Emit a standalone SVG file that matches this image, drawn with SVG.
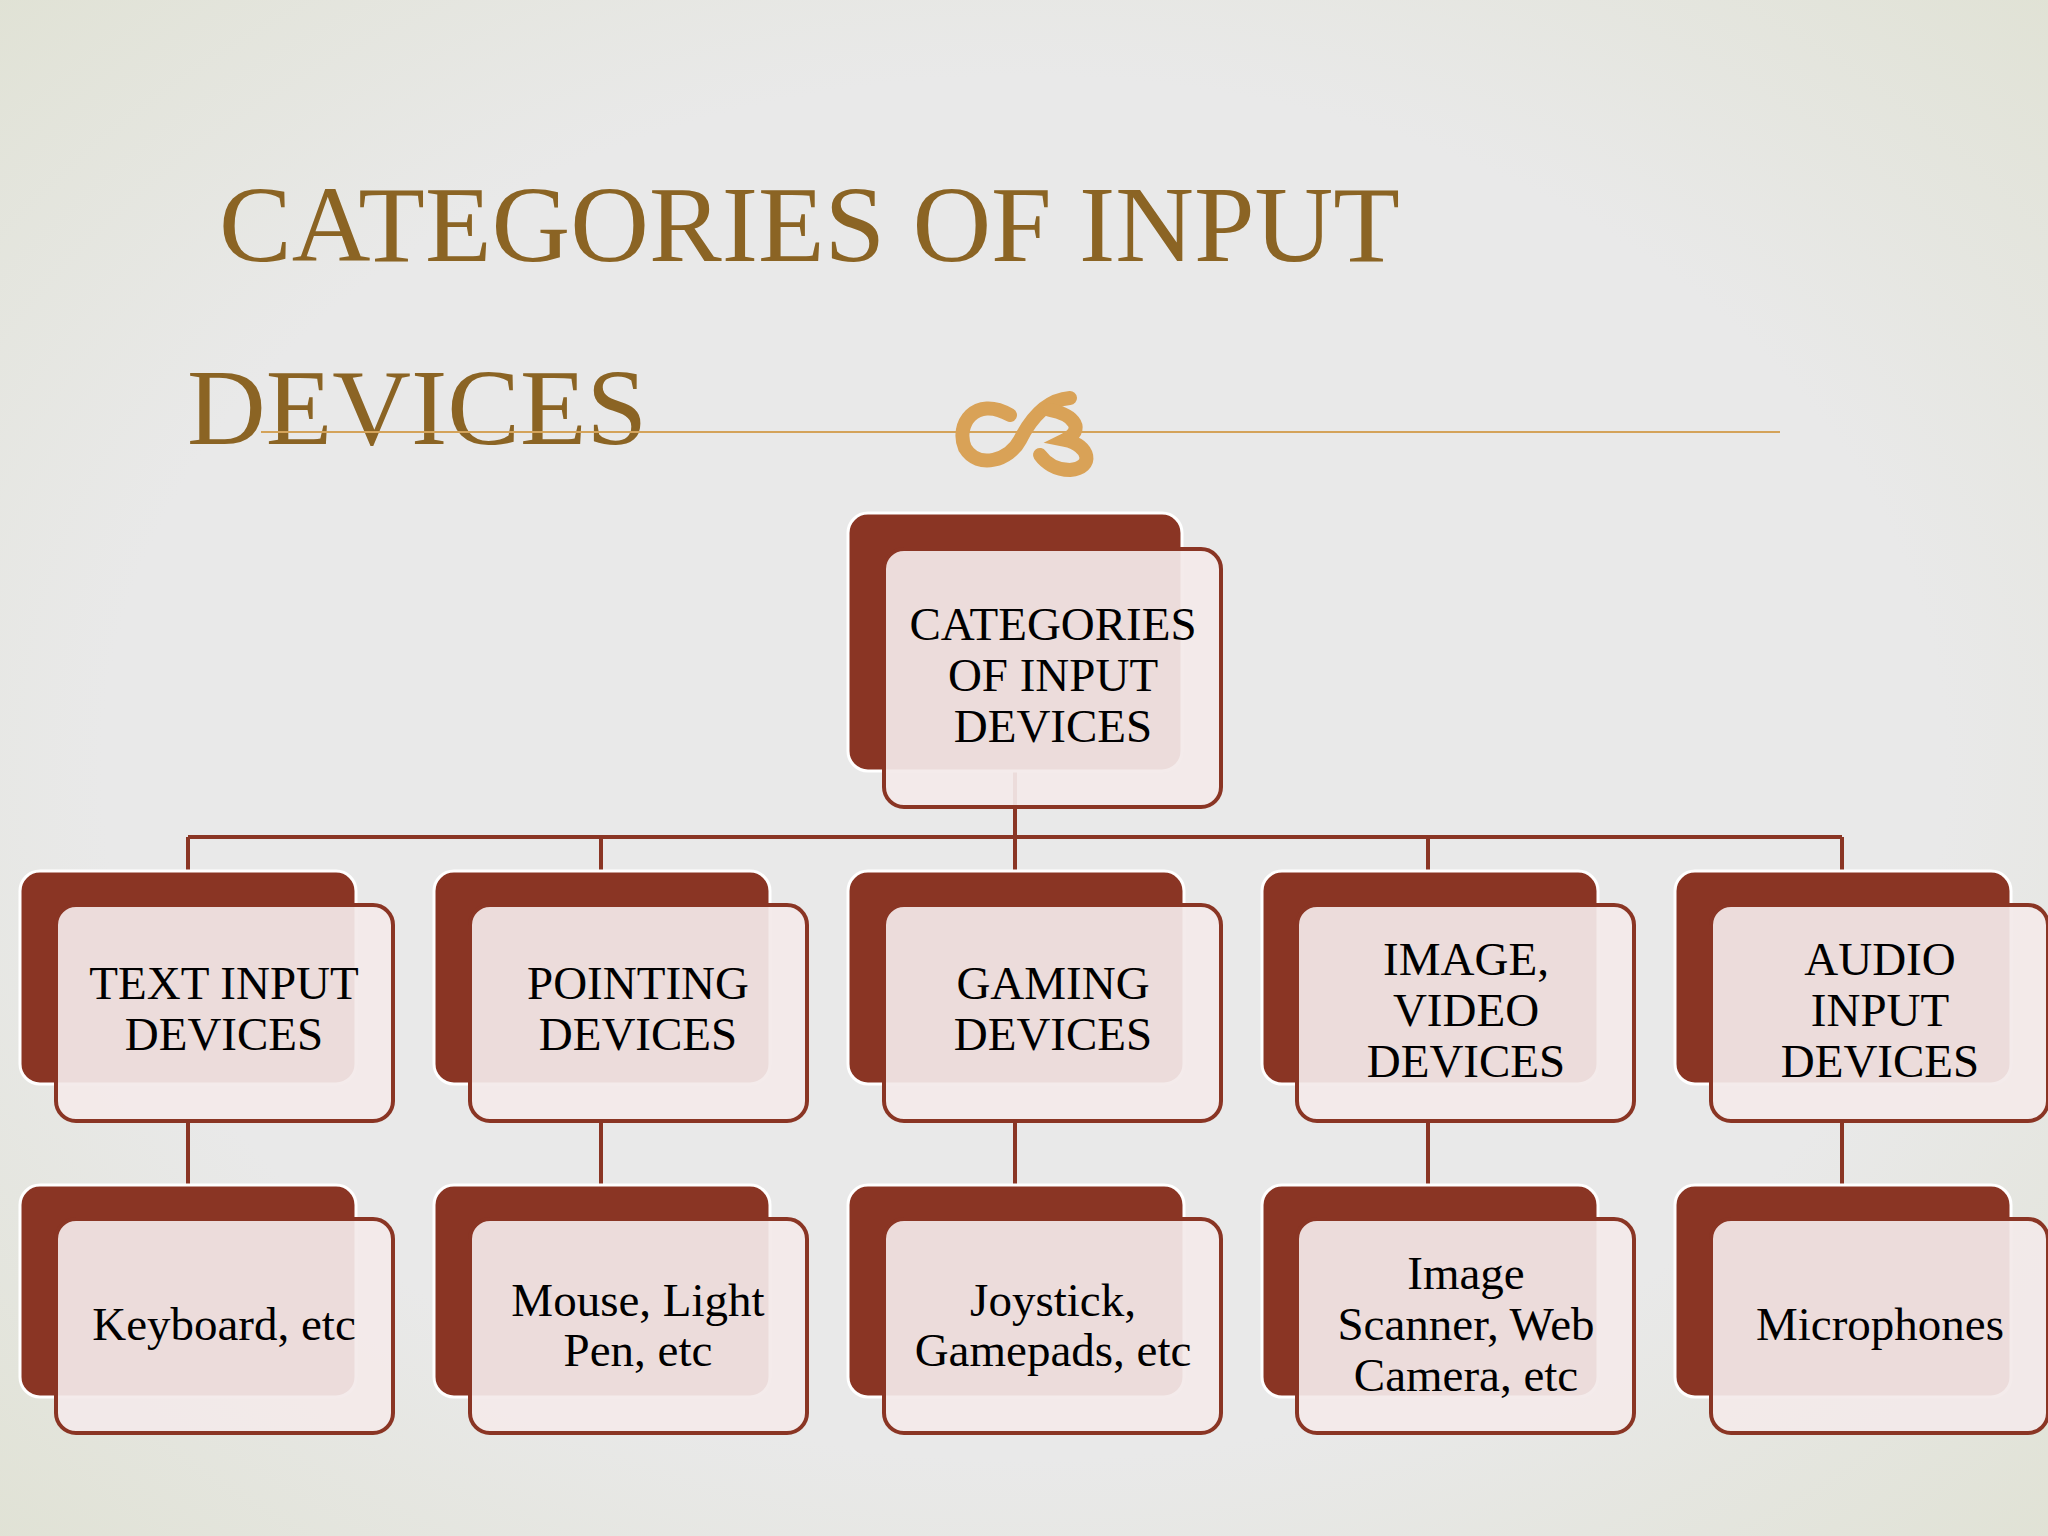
<svg xmlns="http://www.w3.org/2000/svg" width="2048" height="1536" viewBox="0 0 2048 1536">
<defs>
<radialGradient id="bg" cx="50%" cy="50%" r="75%">
<stop offset="0.6" stop-color="#E9E9E9"/><stop offset="1" stop-color="#DFE1D2"/>
</radialGradient>
<style>
.back{fill:#8A3524;stroke:#FFFFFF;stroke-width:3}
.front{fill:#F3EAEA;fill-opacity:0.93;stroke:#8A3524;stroke-width:4}
.t{font-family:"Liberation Serif",serif;font-size:47px;fill:#000;text-anchor:middle}
.title{font-family:"Liberation Serif",serif;font-size:109px;fill:#8B6424}
.c{stroke:#8A3524;stroke-width:4;fill:none}
</style>
</defs>
<rect width="2048" height="1536" fill="url(#bg)"/>
<text class="title" x="219" y="261">CATEGORIES OF INPUT</text>
<text class="title" x="187" y="444">DEVICES</text>
<line x1="261" y1="432" x2="1780" y2="432" stroke="#D4A35A" stroke-width="2"/>
<g id="ornament" fill="none" stroke="#D9A257" stroke-width="14" stroke-linecap="round">
<path d="M1010,415 C975,395 955,425 965,448 C978,470 1010,460 1020,440 C1030,420 1045,400 1070,398"/>
<path d="M1050,410 C1075,415 1085,430 1065,440 C1090,445 1095,468 1070,470 C1055,470 1045,462 1040,455"/>
</g>
<g id="connectors" class="c">
<path d="M1015,771 V837 M188,837 H1842 M188,837 V871 M601,837 V871 M1015,837 V871 M1428,837 V871 M1842,837 V871"/>
<path d="M188,1121 V1185 M601,1121 V1185 M1015,1121 V1185 M1428,1121 V1185 M1842,1121 V1185"/>
</g>
<g id="root"><rect class="back" x="848" y="513" width="334" height="258" rx="20"/><rect class="front" x="884" y="549" width="337" height="258" rx="20"/>
<text class="t" x="1053" y="640">CATEGORIES</text><text class="t" x="1053" y="691">OF INPUT</text><text class="t" x="1053" y="742">DEVICES</text></g>
<g id="n1"><rect class="back" x="20" y="871" width="336" height="213" rx="20"/><rect class="front" x="56" y="905" width="337" height="216" rx="20"/>
<text class="t" x="224" y="999">TEXT INPUT</text><text class="t" x="224" y="1050">DEVICES</text></g>
<g id="n2"><rect class="back" x="434" y="871" width="336" height="213" rx="20"/><rect class="front" x="470" y="905" width="337" height="216" rx="20"/>
<text class="t" x="638" y="999">POINTING</text><text class="t" x="638" y="1050">DEVICES</text></g>
<g id="n3"><rect class="back" x="848" y="871" width="336" height="213" rx="20"/><rect class="front" x="884" y="905" width="337" height="216" rx="20"/>
<text class="t" x="1053" y="999">GAMING</text><text class="t" x="1053" y="1050">DEVICES</text></g>
<g id="n4"><rect class="back" x="1262" y="871" width="336" height="213" rx="20"/><rect class="front" x="1297" y="905" width="337" height="216" rx="20"/>
<text class="t" x="1466" y="975">IMAGE,</text><text class="t" x="1466" y="1026">VIDEO</text><text class="t" x="1466" y="1077">DEVICES</text></g>
<g id="n5"><rect class="back" x="1675" y="871" width="336" height="213" rx="20"/><rect class="front" x="1711" y="905" width="337" height="216" rx="20"/>
<text class="t" x="1880" y="975">AUDIO</text><text class="t" x="1880" y="1026">INPUT</text><text class="t" x="1880" y="1077">DEVICES</text></g>
<g id="m1"><rect class="back" x="20" y="1185" width="336" height="212" rx="20"/><rect class="front" x="56" y="1219" width="337" height="214" rx="20"/>
<text class="t" x="224" y="1340">Keyboard, etc</text></g>
<g id="m2"><rect class="back" x="434" y="1185" width="336" height="212" rx="20"/><rect class="front" x="470" y="1219" width="337" height="214" rx="20"/>
<text class="t" x="638" y="1316">Mouse, Light</text><text class="t" x="638" y="1366">Pen, etc</text></g>
<g id="m3"><rect class="back" x="848" y="1185" width="336" height="212" rx="20"/><rect class="front" x="884" y="1219" width="337" height="214" rx="20"/>
<text class="t" x="1053" y="1316">Joystick,</text><text class="t" x="1053" y="1366">Gamepads, etc</text></g>
<g id="m4"><rect class="back" x="1262" y="1185" width="336" height="212" rx="20"/><rect class="front" x="1297" y="1219" width="337" height="214" rx="20"/>
<text class="t" x="1466" y="1289">Image</text><text class="t" x="1466" y="1340">Scanner, Web</text><text class="t" x="1466" y="1391">Camera, etc</text></g>
<g id="m5"><rect class="back" x="1675" y="1185" width="336" height="212" rx="20"/><rect class="front" x="1711" y="1219" width="337" height="214" rx="20"/>
<text class="t" x="1880" y="1340">Microphones</text></g>
</svg>
